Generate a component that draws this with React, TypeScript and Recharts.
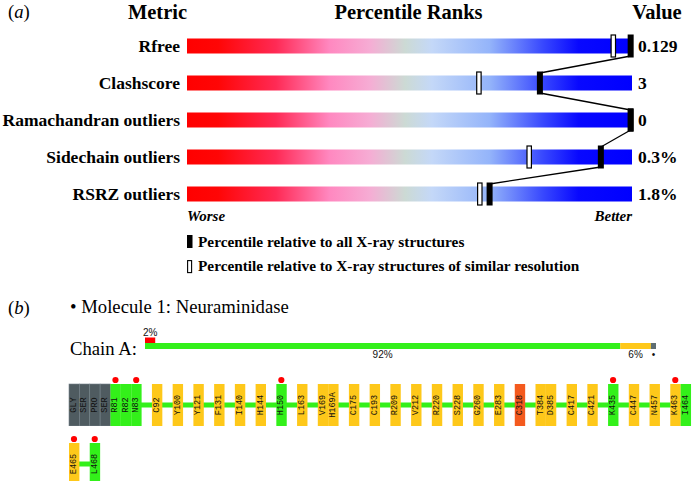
import React from "react"
import { ComposedChart, BarChart, Bar, Line, XAxis, YAxis, LabelList, Legend } from "recharts"

// ---- panel (a): percentile ranks ----
const METRICS = ["Rfree", "Clashscore", "Ramachandran outliers", "Sidechain outliers", "RSRZ outliers"]
const METRIC_VALUES = ["0.129", "3", "0", "0.3%", "1.8%"]
const PCT_ALL = [99.7, 79.3, 99.7, 93, 68]
const PCT_SIMILAR = [95.8, 65.6, 99.7, 76.9, 65.8]
const SCALE_ENDS = ["Worse", "Better"]
const LEGEND_TEXT = [
    "Percentile relative to all X-ray structures",
    "Percentile relative to X-ray structures of similar resolution",
]

// ---- panel (b): chain summary ----
const CHAIN_RSRZ = 2
const CHAIN_QUALITY = [93, 6, 1] // green, yellow, not modelled
const CHAIN_QUALITY_LABELS = ["92%", "6%", "•"]

// one entry per slot, null = gap between non-consecutive residues
const ROW1_RESIDUES = [
    "GLY", "SER", "PRO", "SER", "R81", "R82", "N83", null, "C92", null, "Y100", null, "Y121", null,
    "F131", null, "I140", null, "H144", null, "H150", null, "L163", null, "V169", "H169A", null,
    "C175", null, "C193", null, "R209", null, "V212", null, "R220", null, "S228", null, "G260", null,
    "E283", null, "C318", null, "T384", "D385", null, "C417", null, "C421", null, "K435", null,
    "C447", null, "N457", null, "K463", "I464",
]
const ROW2_RESIDUES = ["E465", null, "L468"]
const UNMODELLED = ["GLY", "SER", "PRO"]
const GOOD_RES = ["R81", "R82", "N83", "H150", "K435", "I464", "L468"]
const BAD_RES = ["C318"]
const RSRZ_OUTLIERS = ["R81", "N83", "H150", "K435", "K463", "E465", "L468"]

const SERIF = "'Liberation Serif', 'Times New Roman', serif"
const SANS = "'Liberation Sans', Arial, sans-serif"
const MONO = "'Liberation Mono', 'Courier New', monospace"

const COLORS = {
    good: "#33f01a",
    fair: "#fec81a",
    bad: "#f45a1e",
    none: "#4f5b60",
    noneBar: "#5e6d73",
    red: "#ff0000",
}

const rankData = METRICS.map((metric, i) => ({
    metric,
    full: 100,
    all: PCT_ALL[i],
    similar: PCT_SIMILAR[i],
    value: METRIC_VALUES[i],
}))

const chainData = [
    { row: "rsrz", rsrz: CHAIN_RSRZ, rsrzLabel: `${CHAIN_RSRZ}%` },
    {
        row: "quality",
        good: CHAIN_QUALITY[0],
        fair: CHAIN_QUALITY[1],
        none: CHAIN_QUALITY[2],
        goodLabel: CHAIN_QUALITY_LABELS[0],
        fairLabel: CHAIN_QUALITY_LABELS[1],
        noneLabel: CHAIN_QUALITY_LABELS[2],
    },
]

const SLOTS = ROW1_RESIDUES.length

function residueRows(list: (string | null)[]) {
    const rows = []
    const last = list.length - 1
    for (let i = 0; i < SLOTS; i++) {
        const name = i < list.length ? list[i] : null
        let quality = "fair"
        if (name && UNMODELLED.includes(name)) quality = "none"
        else if (name && GOOD_RES.includes(name)) quality = "good"
        else if (name && BAD_RES.includes(name)) quality = "bad"
        rows.push({
            slot: i,
            name,
            quality,
            outlier: !!name && RSRZ_OUTLIERS.includes(name),
            box: name ? [0, 1] : null,
            backbone: i <= last ? 0.5 : null,
        })
    }
    return rows
}

const row1Data = residueRows(ROW1_RESIDUES)
const row2Data = residueRows(ROW2_RESIDUES)

function AllMarker(props: any) {
    const { cx, cy, index, points } = props
    const next = points ? points[index + 1] : null
    return (
        <g>
            {next && (
                <line x1={cx} y1={cy + 10} x2={next.x} y2={next.y - 10} stroke="#000" strokeWidth={1.3} />
            )}
            <rect x={cx - 3} y={cy - 11.5} width={6} height={23} fill="#000" />
        </g>
    )
}

function SimilarMarker(props: any) {
    const { cx, cy } = props
    return <rect x={cx - 2.2} y={cy - 11} width={4.4} height={22} fill="#fff" stroke="#000" strokeWidth={1.2} />
}

function ScaleTick(props: any) {
    const { x, y, payload } = props
    const first = payload.value === 0
    return (
        <text x={x} y={y + 8} textAnchor={first ? "start" : "end"} fontFamily={SERIF} fontSize={15}
              fontWeight={700} fontStyle="italic" fill="#000">
            {first ? SCALE_ENDS[0] : SCALE_ENDS[1]}
        </text>
    )
}

function LegendKey() {
    return (
        <svg width={480} height={45} style={{ display: "block" }}>
            <rect x={0} y={3} width={5.5} height={13} fill="#000" />
            <text x={11} y={15} fontFamily={SERIF} fontSize={15.3} fontWeight={700} fill="#000">{LEGEND_TEXT[0]}</text>
            <rect x={0.6} y={28.6} width={4} height={12} fill="#fff" stroke="#000" strokeWidth={1.1} />
            <text x={11} y={39} fontFamily={SERIF} fontSize={15.3} fontWeight={700} fill="#000">{LEGEND_TEXT[1]}</text>
        </svg>
    )
}

function ResidueBox(props: any) {
    const { x, y, width, height, payload } = props
    if (!payload || !payload.name) return null
    const cx = x + width / 2
    const cy = y + height / 2
    const fill = (COLORS as any)[payload.quality]
    return (
        <g>
            <rect x={x} y={y} width={width + 0.4} height={height} fill={fill}
                  stroke={payload.quality === "none" ? "#76838a" : "none"} strokeWidth={0.6} />
            {payload.outlier && <circle cx={cx} cy={y - 4} r={3.1} fill={COLORS.red} />}
            <text x={cx} y={cy} transform={`rotate(-90 ${cx} ${cy})`} textAnchor="middle"
                  dominantBaseline="central" fontFamily={MONO} fontSize={8.5} fill="#111">
                {payload.name}
            </text>
        </g>
    )
}

const ROW_MARGIN = { top: 14, right: 1, bottom: 0, left: 69 }

// backbone sits in its own chart underneath so the boxes cover it
function ResidueRow({ data }: { data: any[] }) {
    return (
        <div style={{ position: "relative", width: 692, height: 56 }}>
            <div style={{ position: "absolute", left: 0, top: 0 }}>
                <ComposedChart width={692} height={56} data={data} margin={ROW_MARGIN} barCategoryGap={0}>
                    <XAxis type="category" dataKey="slot" hide />
                    <YAxis type="number" domain={[0, 1]} hide width={0} />
                    <Line dataKey="backbone" stroke={COLORS.good} strokeWidth={5} dot={false} activeDot={false}
                          isAnimationActive={false} />
                </ComposedChart>
            </div>
            <div style={{ position: "absolute", left: 0, top: 0 }}>
                <ComposedChart width={692} height={56} data={data} margin={ROW_MARGIN} barCategoryGap={0}>
                    <XAxis type="category" dataKey="slot" hide />
                    <YAxis type="number" domain={[0, 1]} hide width={0} />
                    <Bar dataKey="box" shape={<ResidueBox />} isAnimationActive={false} />
                </ComposedChart>
            </div>
        </div>
    )
}

export default function App() {
    return (
        <div style={{ position: "absolute", left: 0, top: 0, width: 692, height: 481, background: "#fff", overflow: "hidden" }}>
            <div style={{ position: "absolute", left: 0, top: 0 }}>
                <ComposedChart layout="vertical" width={692} height={230} data={rankData}
                               margin={{ top: 27.5, right: 60, bottom: 7.5, left: 0 }}>
                    <defs>
                        <linearGradient id="rankGrad" x1="0" y1="0" x2="1" y2="0">
                            <stop offset="0%" stopColor="#ff0000" />
                            <stop offset="7%" stopColor="#ff0606" />
                            <stop offset="20%" stopColor="#ff2a55" />
                            <stop offset="32%" stopColor="#ff88c0" />
                            <stop offset="41%" stopColor="#f6acd4" />
                            <stop offset="49%" stopColor="#ccdad4" />
                            <stop offset="55%" stopColor="#c4d8f8" />
                            <stop offset="68%" stopColor="#94b4fa" />
                            <stop offset="80%" stopColor="#3848fe" />
                            <stop offset="88%" stopColor="#0808ff" />
                            <stop offset="100%" stopColor="#0000ff" />
                        </linearGradient>
                    </defs>
                    <XAxis type="number" domain={[0, 100]} ticks={[0, 100]} interval={0} height={10}
                           axisLine={false} tickLine={false} tickSize={0} tickMargin={0} tick={<ScaleTick />} />
                    <YAxis type="category" dataKey="metric" width={187} interval={0} axisLine={false}
                           tickLine={false} tickSize={0} tickMargin={7}
                           tick={{ fill: "#000", fontSize: 17.5, fontWeight: 700, fontFamily: SERIF }} />
                    <Bar dataKey="full" barSize={15} fill="url(#rankGrad)" isAnimationActive={false}>
                        <LabelList dataKey="value" position="right" offset={6} fill="#000"
                                   style={{ fontSize: 17.5, fontWeight: 700, fontFamily: SERIF }} />
                    </Bar>
                    <Line dataKey="similar" stroke="none" dot={<SimilarMarker />} activeDot={false}
                          isAnimationActive={false} />
                    <Line dataKey="all" stroke="none" dot={<AllMarker />} activeDot={false}
                          isAnimationActive={false} />
                    <Legend layout="horizontal" verticalAlign="middle" align="center"
                            wrapperStyle={{ left: 187, top: 232, width: 480, height: 45 }}
                            content={() => <LegendKey />} />
                </ComposedChart>
            </div>

            <div style={{ position: "absolute", left: 0, top: 320 }}>
                <BarChart layout="vertical" width={692} height={50} data={chainData} barCategoryGap={0} barGap={0}
                          margin={{ top: 17.5, right: 36, bottom: 21.5, left: 145 }}>
                    <XAxis type="number" domain={[0, 100]} hide />
                    <YAxis type="category" dataKey="row" hide width={0} />
                    <Bar dataKey="rsrz" stackId="q" fill={COLORS.red} isAnimationActive={false}>
                        <LabelList dataKey="rsrzLabel" position="top" offset={2} fill="#111"
                                   style={{ fontSize: 10, fontFamily: SANS }} />
                    </Bar>
                    <Bar dataKey="good" stackId="q" fill={COLORS.good} isAnimationActive={false}>
                        <LabelList dataKey="goodLabel" position="bottom" offset={2} fill="#111"
                                   style={{ fontSize: 10, fontFamily: SANS }} />
                    </Bar>
                    <Bar dataKey="fair" stackId="q" fill={COLORS.fair} isAnimationActive={false}>
                        <LabelList dataKey="fairLabel" position="bottom" offset={2} fill="#111"
                                   style={{ fontSize: 10, fontFamily: SANS }} />
                    </Bar>
                    <Bar dataKey="none" stackId="q" fill={COLORS.noneBar} isAnimationActive={false}>
                        <LabelList dataKey="noneLabel" position="bottom" offset={2} fill="#111"
                                   style={{ fontSize: 10, fontFamily: SANS }} />
                    </Bar>
                </BarChart>
            </div>

            <div style={{ position: "absolute", left: 0, top: 370 }}>
                <ResidueRow data={row1Data} />
            </div>
            <div style={{ position: "absolute", left: 0, top: 429 }}>
                <ResidueRow data={row2Data} />
            </div>

            <svg width={692} height={481} style={{ position: "absolute", left: 0, top: 0, pointerEvents: "none" }}>
                <g fontFamily={SERIF} fill="#000">
                    <text x={8} y={18} fontSize={18.7}>(<tspan fontStyle="italic">a</tspan>)</text>
                    <text x={157.5} y={18.5} fontSize={20.5} fontWeight={700} textAnchor="middle">Metric</text>
                    <text x={408.5} y={18.5} fontSize={20.5} fontWeight={700} textAnchor="middle">Percentile Ranks</text>
                    <text x={657} y={18.5} fontSize={20.5} fontWeight={700} textAnchor="middle">Value</text>
                    <text x={8} y={314} fontSize={18.7}>(<tspan fontStyle="italic">b</tspan>)</text>
                    <text x={70} y={313} fontSize={18.7}>• Molecule 1: Neuraminidase</text>
                    <text x={70} y={355} fontSize={18.7}>Chain A:</text>
                </g>
            </svg>
        </div>
    )
}
